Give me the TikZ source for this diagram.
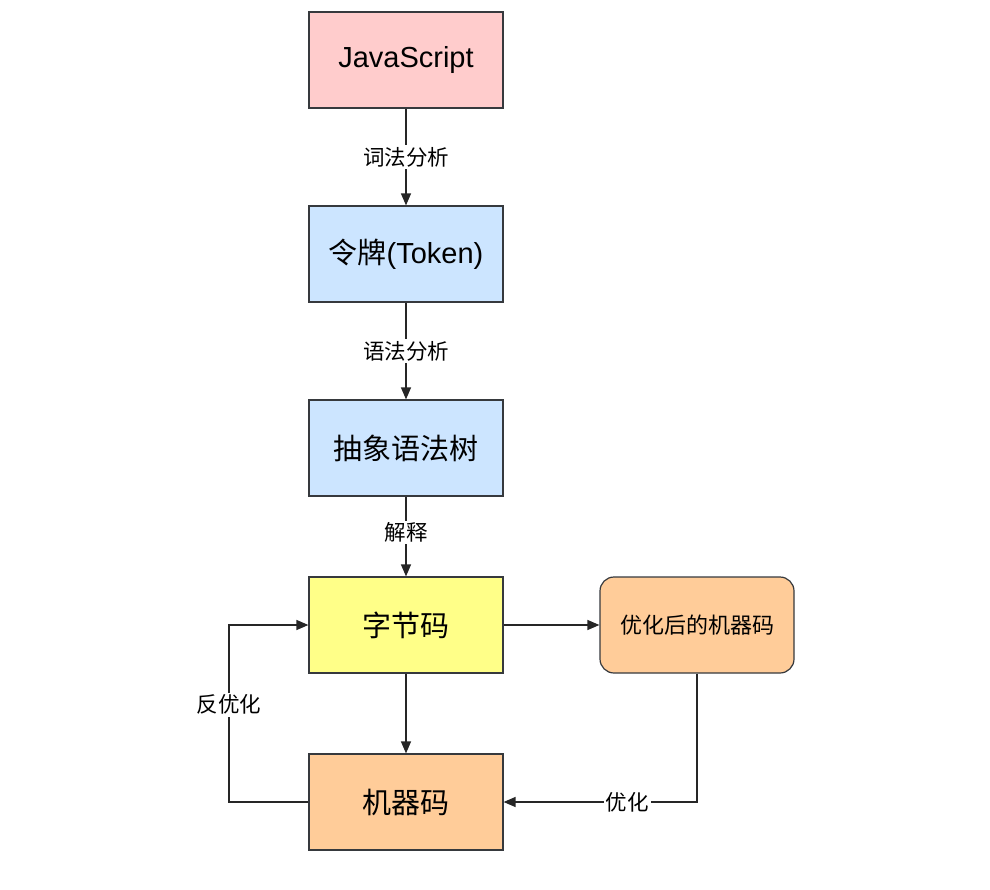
\documentclass[tikz,border=0pt]{standalone}
\usepackage{fontspec}
\setmainfont{Liberation Sans}
\newfontfamily\cjk{Noto Sans CJK SC}
\usetikzlibrary{arrows.meta}
\definecolor{cpink}{HTML}{FFCCCC}
\definecolor{cblue}{HTML}{CCE5FF}
\definecolor{cyellow}{HTML}{FFFF88}
\definecolor{corange}{HTML}{FFCC99}
\definecolor{cline}{HTML}{36393D}
\tikzset{
  box/.style={draw=cline, line width=1.2pt, minimum width=194pt, minimum height=96pt, inner sep=0pt, font=\fontsize{29}{34}\selectfont},
  conn/.style={draw=black!85, line width=1.3pt, -{Triangle[length=12pt,width=10pt]}},
  elabel/.style={fill=white, inner sep=2pt, font=\cjk\fontsize{21.5}{26}\selectfont}
}
\begin{document}
\begin{tikzpicture}[x=1pt,y=-1pt]
\useasboundingbox (0,0) rectangle (990,889);
\node[box, fill=cpink] (js) at (406,60) {JavaScript};
\node[box, fill=cblue] (tok) at (406,254) {{\cjk 令牌}(Token)};
\node[box, fill=cblue] (ast) at (406,448) {\cjk 抽象语法树};
\node[box, fill=cyellow] (bc) at (406,625) {\cjk 字节码};
\node[box, fill=corange] (mc) at (406,802) {\cjk 机器码};
\node[box, fill=corange, rounded corners=14pt, font=\cjk\fontsize{22}{26}\selectfont] (omc) at (697,625) {优化后的机器码};
\draw[conn] (js) -- node[elabel] {词法分析} (tok);
\draw[conn] (tok) -- node[elabel] {语法分析} (ast);
\draw[conn] (ast) -- node[elabel, pos=0.45] {解释} (bc);
\draw[conn] (bc) -- (mc);
\draw[conn] (bc) -- (omc);
\coordinate (l1) at (229,802);
\coordinate (l2) at (229,625);
\draw[conn] (mc.west) -- (l1) -- node[elabel, pos=0.55] {反优化} (l2) -- (bc.west);
\coordinate (r1) at (697,802);
\draw[conn] (omc.south) -- (r1) -- node[elabel, pos=0.36] {优化} (mc.east);
\end{tikzpicture}
\end{document}
